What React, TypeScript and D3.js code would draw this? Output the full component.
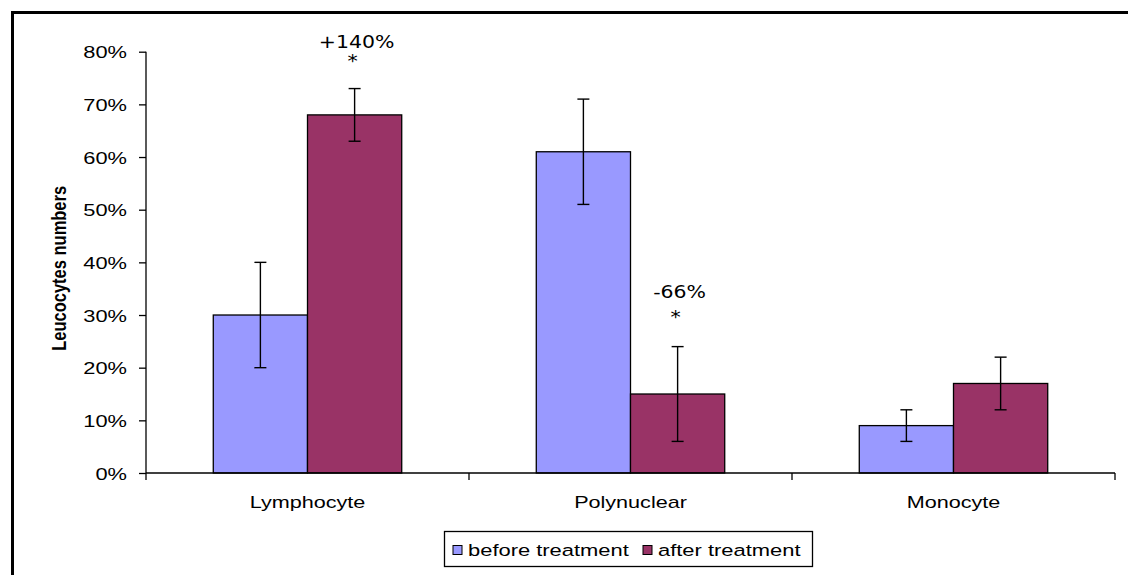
import React, { useEffect, useRef } from 'react';
import * as d3 from 'd3';

// data
const categories = ['Lymphocyte', 'Polynuclear', 'Monocyte'];
const seriesNames = ['before treatment', 'after treatment'];
const beforeValues = [30, 61, 9];
const afterValues = [68, 15, 17];
const beforeErrors = [10, 10, 3];
const afterErrors = [5, 9, 5];
const yTicks = [0, 10, 20, 30, 40, 50, 60, 70, 80];
const annotationCats = ['Lymphocyte', 'Polynuclear'];
const annotationLabels = ['+140%', '-66%'];
const annotationLabelAt = [80.7, 33.3]; // label baseline, in axis units
const annotationStarAt = [77.1, 28.4]; // star baseline, in axis units

const colors = ['#9999FF', '#993366'];

const App = () => {
  const svgRef = useRef<SVGSVGElement | null>(null);
  const width = 1128;
  const height = 575;
  const margin = { top: 51.7, right: 13, bottom: 102, left: 146 };

  useEffect(() => {
    const svg = d3.select(svgRef.current);
    svg.selectAll('*').remove();

    const font = 'Liberation Sans, Arial, sans-serif';
    const sx = 1.27; // the picture is stretched sideways

    // outer frame (right/bottom edges fall outside the picture)
    svg.append('rect')
      .attr('x', 12.5)
      .attr('y', 12.5)
      .attr('width', 1140)
      .attr('height', 600)
      .attr('fill', '#fff')
      .attr('stroke', '#000')
      .attr('stroke-width', 3);

    const x = d3.scaleBand()
      .domain(categories)
      .range([margin.left, width - margin.right])
      .paddingInner(0)
      .paddingOuter(0);

    const inner = d3.scaleBand()
      .domain(seriesNames)
      .range([0, x.bandwidth()])
      .paddingOuter(0.714)
      .paddingInner(0);

    const y = d3.scaleLinear()
      .domain([0, 80])
      .range([height - margin.bottom, margin.top]);

    const rows = categories.map((c, i) => ({
      category: c,
      values: [
        { series: seriesNames[0], value: beforeValues[i], err: beforeErrors[i], color: colors[0] },
        { series: seriesNames[1], value: afterValues[i], err: afterErrors[i], color: colors[1] },
      ],
    }));

    // y axis
    const yAxis = svg.append('g')
      .attr('transform', `translate(${margin.left},0)`)
      .call(d3.axisLeft(y).tickValues(yTicks).tickSize(7).tickFormat(d => `${d}%`));
    yAxis.select('.domain').attr('stroke', '#000').attr('stroke-width', 1.3)
      .attr('d', `M0,${y(80)}V${y(0)}`);
    yAxis.selectAll('.tick line').attr('stroke', '#000').attr('stroke-width', 1.3);
    yAxis.selectAll('.tick text')
      .attr('x', null)
      .attr('dy', '0.36em')
      .attr('transform', `translate(-19,0) scale(${sx},1)`)
      .attr('font-family', font)
      .attr('font-size', 17.2)
      .attr('fill', '#000');

    // bars
    const groups = svg.append('g')
      .selectAll('g')
      .data(rows)
      .join('g')
      .attr('transform', d => `translate(${x(d.category)},0)`);

    groups.selectAll('rect')
      .data(d => d.values)
      .join('rect')
      .attr('x', d => inner(d.series)!)
      .attr('y', d => y(d.value))
      .attr('width', inner.bandwidth())
      .attr('height', d => y(0) - y(d.value))
      .attr('fill', d => d.color)
      .attr('stroke', '#000')
      .attr('stroke-width', 1.3);

    // error bars
    const eb = groups.selectAll('g.err')
      .data(d => d.values)
      .join('g')
      .attr('class', 'err')
      .attr('stroke', '#000')
      .attr('stroke-width', 1.4)
      .attr('transform', d => `translate(${inner(d.series)! + inner.bandwidth() / 2},0)`);
    eb.append('line')
      .attr('y1', d => y(d.value - d.err))
      .attr('y2', d => y(d.value + d.err));
    eb.append('line')
      .attr('x1', -6).attr('x2', 6)
      .attr('y1', d => y(d.value + d.err))
      .attr('y2', d => y(d.value + d.err));
    eb.append('line')
      .attr('x1', -6).attr('x2', 6)
      .attr('y1', d => y(d.value - d.err))
      .attr('y2', d => y(d.value - d.err));

    // x axis
    const xAxis = svg.append('g')
      .attr('transform', `translate(0,${y(0)})`)
      .call(d3.axisBottom(x).tickSize(0));
    xAxis.select('.domain').attr('stroke', '#000').attr('stroke-width', 1.3)
      .attr('d', `M${margin.left},0H${width - margin.right}`);
    xAxis.selectAll('.tick text')
      .attr('y', null)
      .attr('dy', null)
      .attr('transform', `translate(0,35) scale(${sx},1)`)
      .attr('font-family', font)
      .attr('font-size', 17)
      .attr('fill', '#000');
    // category separators
    xAxis.selectAll('line.sep')
      .data(d3.range(categories.length + 1))
      .join('line')
      .attr('class', 'sep')
      .attr('x1', i => margin.left + i * x.step())
      .attr('x2', i => margin.left + i * x.step())
      .attr('y1', 0)
      .attr('y2', 7)
      .attr('stroke', '#000')
      .attr('stroke-width', 1.3);

    // annotations
    const ann = svg.append('g')
      .attr('font-family', 'DejaVu Sans, sans-serif')
      .attr('font-size', 17.5)
      .attr('text-anchor', 'middle')
      .attr('fill', '#000');
    annotationCats.forEach((c, i) => {
      const cx = x(c)! + inner(seriesNames[1])! + inner.bandwidth() / 2;
      ann.append('text')
        .attr('transform', `translate(${cx + 2},${y(annotationLabelAt[i])}) scale(1.17,1)`)
        .text(annotationLabels[i]);
      ann.append('text')
        .attr('transform', `translate(${cx - 2},${y(annotationStarAt[i])}) scale(1.17,1)`)
        .text('*');
    });

    // y title
    svg.append('text')
      .attr('transform', `translate(66,${(y(0) + y(80)) / 2 + 6}) rotate(-90) scale(1,${sx})`)
      .attr('text-anchor', 'middle')
      .attr('font-family', font)
      .attr('font-weight', 'bold')
      .attr('font-size', 16.5)
      .attr('fill', '#000')
      .text('Leucocytes numbers');

    // legend
    const lg = svg.append('g').attr('transform', 'translate(444.5,531.5)');
    lg.append('rect')
      .attr('width', 368)
      .attr('height', 35)
      .attr('fill', '#fff')
      .attr('stroke', '#000')
      .attr('stroke-width', 1.3);
    const items = lg.selectAll('g')
      .data(seriesNames)
      .join('g')
      .attr('transform', (d, i) => `translate(${i === 0 ? 8.5 : 198.5},0)`);
    items.append('rect')
      .attr('x', 0)
      .attr('y', 14)
      .attr('width', 9)
      .attr('height', 9)
      .attr('fill', (d, i) => colors[i])
      .attr('stroke', '#000');
    items.append('text')
      .attr('transform', `translate(15,24.5) scale(1.29,1)`)
      .attr('font-family', font)
      .attr('font-size', 17)
      .attr('fill', '#000')
      .text(d => d);
  }, []);

  return (
    <svg
      ref={svgRef}
      width={width}
      height={height}
      style={{ position: 'absolute', left: 0, top: 0, background: '#fff' }}
    />
  );
};

export default App;
